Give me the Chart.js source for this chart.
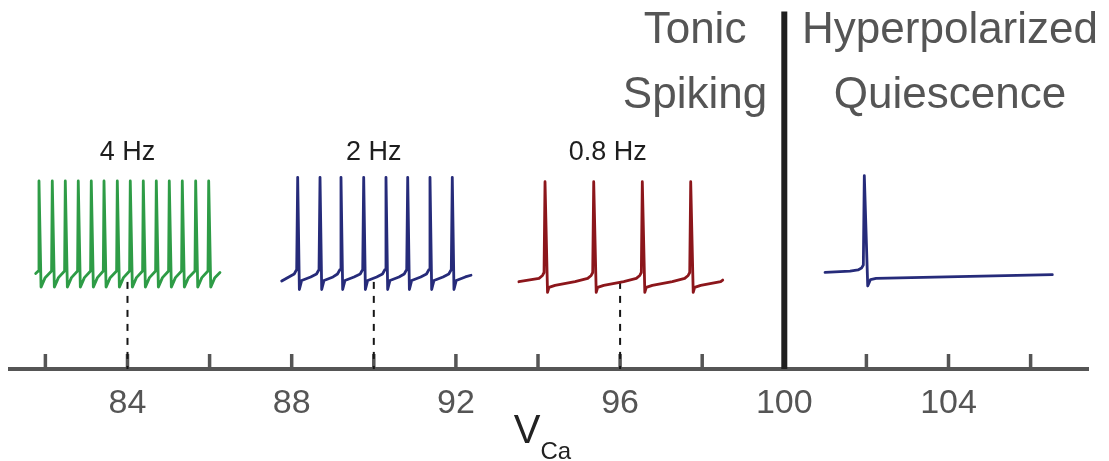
<!DOCTYPE html>
<html>
<head>
<meta charset="utf-8">
<script src="https://cdn.jsdelivr.net/npm/chart.js@4.4.1/dist/chart.umd.min.js"></script>
<style>
  html, body { margin: 0; padding: 0; background: #ffffff; }
  canvas { display: block; }
</style>
</head>
<body>
<canvas id="chart" width="1109" height="461"></canvas>
<script>
// ---- V_Ca axis ----
const vcaMin = 81.138;
const vcaMax = 107.398;
const tickValues = [82, 84, 86, 88, 90, 92, 94, 96, 98, 100, 102, 104, 106];
const labelledTicks = [84, 88, 92, 96, 100, 104];

// ---- Voltage traces (x: V_Ca position of each vertex, y: membrane level) ----
// 4 Hz tonic spiking
const trace4HzX = [81.764,
  81.827, 81.844, 81.894, 81.994,
  82.151, 82.168, 82.218, 82.318,
  82.468, 82.485, 82.535, 82.635,
  82.784, 82.801, 82.851, 82.951,
  83.101, 83.118, 83.168, 83.268,
  83.411, 83.428, 83.478, 83.578,
  83.735, 83.752, 83.802, 83.902,
  84.051, 84.068, 84.118, 84.218,
  84.368, 84.385, 84.435, 84.535,
  84.685, 84.702, 84.752, 84.852,
  85.001, 85.018, 85.068, 85.168,
  85.318, 85.335, 85.385, 85.485,
  85.644, 85.661, 85.711, 85.811,
  85.961, 85.978, 86.028, 86.128,
  86.253];
const trace4HzY = [-48.2,
  -46.9, 1.9, -55.6, -50.5,
  -46.9, 1.9, -55.6, -50.5,
  -46.9, 1.9, -55.6, -50.5,
  -46.9, 1.9, -55.6, -50.5,
  -46.9, 1.9, -55.6, -50.5,
  -46.9, 1.9, -55.6, -50.5,
  -46.9, 1.9, -55.6, -50.5,
  -46.9, 1.9, -55.6, -50.5,
  -46.9, 1.9, -55.6, -50.5,
  -46.9, 1.9, -55.6, -50.5,
  -46.9, 1.9, -55.6, -50.5,
  -46.9, 1.9, -55.6, -50.5,
  -46.9, 1.9, -55.6, -50.5,
  -46.9, 1.9, -55.6, -50.5,
  -47.7];

// 2 Hz tonic spiking
const trace2HzX = [87.757,
  88.061, 88.122, 88.146, 88.187, 88.243, 88.463,
  88.605, 88.666, 88.690, 88.731, 88.787, 89.007,
  89.116, 89.177, 89.201, 89.242, 89.298, 89.518,
  89.669, 89.730, 89.754, 89.795, 89.851, 90.071,
  90.212, 90.273, 90.297, 90.338, 90.394, 90.614,
  90.741, 90.802, 90.826, 90.867, 90.923, 91.143,
  91.284, 91.345, 91.369, 91.410, 91.466, 91.686,
  91.827, 91.888, 91.912, 91.953, 92.009, 92.229,
  92.368];
const trace2HzY = [-52.3,
  -48.5, -46.1, 3.9, -56.9, -52.0, -50.1,
  -48.5, -46.1, 3.9, -56.9, -52.0, -50.1,
  -48.5, -46.1, 3.9, -56.9, -52.0, -50.1,
  -48.5, -46.1, 3.9, -56.9, -52.0, -50.1,
  -48.5, -46.1, 3.9, -56.9, -52.0, -50.1,
  -48.5, -46.1, 3.9, -56.9, -52.0, -50.1,
  -48.5, -46.1, 3.9, -56.9, -52.0, -50.1,
  -48.5, -46.1, 3.9, -56.9, -52.0, -50.1,
  -49.2];

// 0.8 Hz tonic spiking
const trace08HzX = [93.535,
  94.025, 94.110, 94.147, 94.171, 94.232, 94.268, 94.415, 94.902,
  95.211, 95.296, 95.333, 95.357, 95.418, 95.454, 95.601, 96.088,
  96.395, 96.480, 96.517, 96.541, 96.602, 96.638, 96.785, 97.272,
  97.574, 97.659, 97.696, 97.720, 97.781, 97.817, 97.964, 98.451,
  98.500];
const trace08HzY = [-52.7,
  -50.9, -49.3, -47.7, 1.5, -58.5, -55.8, -54.7, -52.6,
  -50.9, -49.3, -47.7, 1.5, -58.5, -55.8, -54.7, -52.6,
  -50.9, -49.3, -47.7, 1.5, -58.5, -55.8, -54.7, -52.6,
  -50.9, -49.3, -47.7, 1.5, -58.5, -55.8, -54.7, -52.6,
  -51.8];

// Hyperpolarized quiescence: a single spike, then a flat hyperpolarized level
const traceQuietX = [100.992, 101.601, 101.796, 101.881, 101.925, 101.949, 102.032, 102.100, 102.234, 106.529];
const traceQuietY = [-47.6, -46.9, -46.3, -45.3, -43.6, 4.8, -55.0, -51.5, -50.9, -48.9];

// Markers linking each trace to its V_Ca value
const markerVca = [84, 90, 96];
const markerTop = -52.8;
const rateLabels = ['4 Hz', '2 Hz', '0.8 Hz'];
const rateLabelVca = [84, 90, 95.7];

// Boundary between the two regimes
const boundaryVca = 100;
const boundaryTop = 93.7;

// ---- helpers ----
const yMin = -100, yMax = 100;
const toPoints = (xs, ys) => xs.map((x, i) => ({ x: x, y: ys[i] }));

const FONT = '"Liberation Sans", Arial, Helvetica, sans-serif';
const GREY = '#555555';

function traceSet(xs, ys, color) {
  return {
    data: toPoints(xs, ys),
    borderColor: color,
    borderWidth: 2.8,
    pointRadius: 0,
    borderJoinStyle: 'round',
    borderCapStyle: 'round',
    tension: 0,
    fill: false,
    order: 1
  };
}

const datasets = [];
markerVca.forEach(v => {
  datasets.push({
    data: toPoints([v, v], [markerTop, yMin]),
    borderColor: '#151515',
    borderWidth: 2,
    borderDash: [7, 7],
    pointRadius: 0,
    fill: false,
    order: 2
  });
});
datasets.push(traceSet(trace4HzX, trace4HzY, '#2e9c46'));
datasets.push(traceSet(trace2HzX, trace2HzY, '#262b7a'));
datasets.push(traceSet(trace08HzX, trace08HzY, '#8c161b'));
datasets.push(traceSet(traceQuietX, traceQuietY, '#262b7a'));
datasets.push({
  data: toPoints([boundaryVca, boundaryVca], [boundaryTop, yMin]),
  borderColor: '#1f1f1f',
  borderWidth: 6,
  pointRadius: 0,
  fill: false,
  order: 0
});

// Region headings, anchored in data units
const headings = [
  { at: 97.825, lines: [{ text: 'Tonic', level: 76.7 }, { text: 'Spiking', level: 41.5 }] },
  { at: 104.037, lines: [{ text: 'Hyperpolarized', level: 76.7 }, { text: 'Quiescence', level: 41.5 }] }
];
const rateLabelLevel = 17.1;

const decor = {
  id: 'decor',
  beforeDatasetsDraw(chart) {
    // inward tick marks standing on the axis line
    const { ctx } = chart;
    const xs = chart.scales.x;
    const base = xs.top - 2;
    ctx.save();
    ctx.strokeStyle = GREY;
    ctx.lineWidth = 3.5;
    ctx.lineCap = 'butt';
    xs.ticks.forEach(t => {
      const px = xs.getPixelForValue(t.value);
      ctx.beginPath();
      ctx.moveTo(px, base);
      ctx.lineTo(px, base - 13);
      ctx.stroke();
    });
    ctx.restore();
  },
  afterDraw(chart) {
    const { ctx, chartArea } = chart;
    const xs = chart.scales.x, ys = chart.scales.y;
    ctx.save();

    // headings
    ctx.fillStyle = GREY;
    ctx.textAlign = 'center';
    ctx.textBaseline = 'alphabetic';
    ctx.font = '44px ' + FONT;
    headings.forEach(h => {
      const px = xs.getPixelForValue(h.at);
      h.lines.forEach(l => ctx.fillText(l.text, px, ys.getPixelForValue(l.level)));
    });

    // firing-rate labels
    ctx.fillStyle = '#1e1e1e';
    ctx.textBaseline = 'middle';
    ctx.font = '27px ' + FONT;
    rateLabels.forEach((t, i) => {
      ctx.fillText(t, xs.getPixelForValue(rateLabelVca[i]), ys.getPixelForValue(rateLabelLevel));
    });

    // axis title V_Ca with subscript
    ctx.fillStyle = '#222222';
    ctx.textAlign = 'left';
    ctx.textBaseline = 'alphabetic';
    const mainFont = '40px ' + FONT, subFont = '24px ' + FONT;
    ctx.font = mainFont;
    const wV = ctx.measureText('V').width;
    ctx.font = subFont;
    const wSub = ctx.measureText('Ca').width;
    const cx = (chartArea.left + chartArea.right) / 2 - 6.5;
    const x0 = cx - (wV + wSub) / 2;
    ctx.font = mainFont;
    ctx.fillText('V', x0, 443);
    ctx.font = subFont;
    ctx.fillText('Ca', x0 + wV, 459);

    ctx.restore();
  }
};

new Chart(document.getElementById('chart'), {
  type: 'line',
  data: { datasets: datasets },
  options: {
    responsive: false,
    animation: false,
    events: [],
    layout: { padding: { left: 10, right: 21, top: 0, bottom: 0 } },
    plugins: { legend: { display: false }, tooltip: { enabled: false } },
    scales: {
      x: {
        type: 'linear',
        min: vcaMin,
        max: vcaMax,
        afterBuildTicks(scale) {
          scale.ticks = tickValues.map(v => ({ value: v }));
        },
        afterFit(scale) { scale.height = 92; },
        grid: { display: false, drawTicks: false },
        border: { display: true, color: GREY, width: 4 },
        ticks: {
          autoSkip: false,
          maxRotation: 0,
          padding: 14,
          color: GREY,
          font: { family: FONT, size: 34 },
          callback: (v) => labelledTicks.includes(v) ? String(v) : ''
        }
      },
      y: {
        type: 'linear',
        min: yMin,
        max: yMax,
        display: false
      }
    }
  },
  plugins: [decor]
});
</script>
</body>
</html>
